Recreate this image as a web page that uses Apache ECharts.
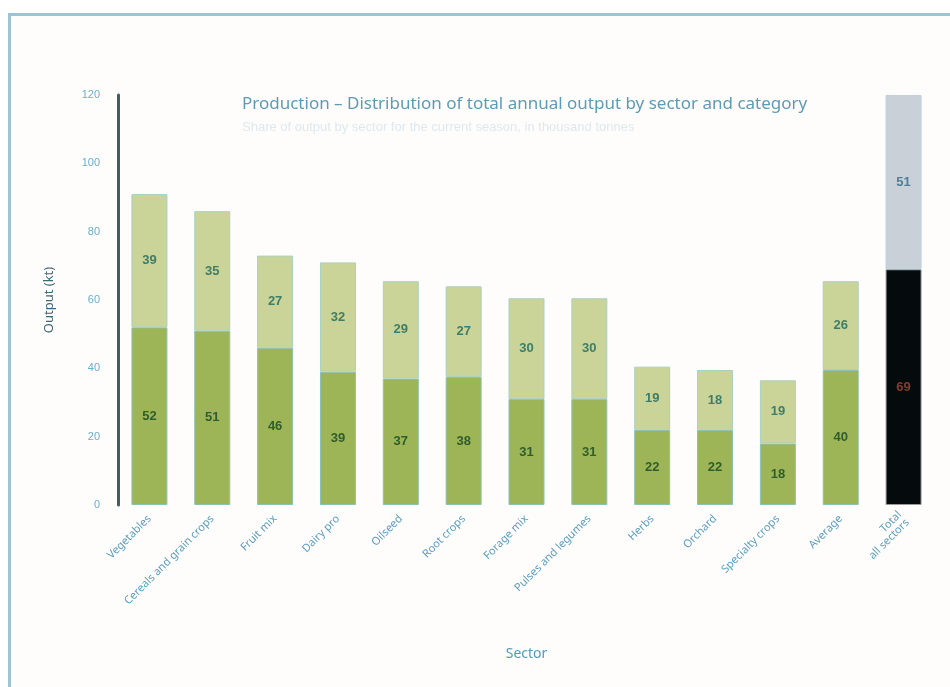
<!DOCTYPE html>
<html>
<head>
<meta charset="utf-8">
<script src="https://cdn.jsdelivr.net/npm/echarts@6/dist/echarts.min.js"></script>
<style>
html,body{margin:0;padding:0;background:#fff;}
#frame{position:absolute;left:8px;top:13px;width:942px;height:674px;border-top:3px solid #9fc3d3;border-left:3px solid #9fc3d3;box-sizing:border-box;background:#fffdfb;}
#chart{position:absolute;left:0;top:0;width:950px;height:687px;}
</style>
</head>
<body>
<div id="frame"></div>
<div id="chart"></div>
<script>
const categories = ["Vegetables", "Cereals and grain crops", "Fruit mix", "Dairy pro", "Oilseed", "Root crops", "Forage mix", "Pulses and legumes", "Herbs", "Orchard", "Specialty crops", "Average", "Total\nall sectors"];
const baseValues = [52, 51, 46, 39, 37, 37.5, 31, 31, 22, 22, 18, 39.5, 69];
const topValues = [39, 35, 27, 32, 28.5, 26.5, 29.5, 29.5, 18.5, 17.5, 18.5, 26, 51];
const yTicks = [0, 20, 40, 60, 80, 100, 120];

const chart = echarts.init(document.getElementById('chart'));
const n = categories.length;
const baseData = baseValues.map((v, i) => i === n - 1
  ? {value: v, itemStyle: {color: '#050a0c', borderColor: '#9a9a9a'}, label: {color: '#8a3a2a'}}
  : v);
const topData = topValues.map((v, i) => i === n - 1
  ? {value: v, itemStyle: {color: '#c9d0d8', borderColor: '#b8d3e2'}, label: {color: '#4a7f99'}}
  : v);

chart.setOption({
  animation: false,
  title: {
    text: 'Production – Distribution of total annual output by sector and category',
    subtext: 'Share of output by sector for the current season, in thousand tonnes',
    left: 237, top: 91,
    textStyle: {color: '#5d9bb5', fontSize: 17, fontWeight: 'normal', fontFamily: 'Noto Sans'},
    subtextStyle: {color: '#dde9ef', fontSize: 13},
    itemGap: 8
  },
  grid: {left: 118, right: 15, top: 95, bottom: 182},
  xAxis: {
    type: 'category',
    data: categories,
    name: 'Sector',
    nameLocation: 'middle',
    nameGap: 142,
    nameTextStyle: {color: '#4f9bc0', fontSize: 14, fontFamily: 'Noto Sans'},
    axisLine: {show: false},
    axisTick: {show: false},
    axisLabel: {rotate: 45, color: '#5b9dc0', fontSize: 11, margin: 12, fontFamily: 'Noto Sans'}
  },
  yAxis: {
    type: 'value',
    min: 0, max: 120, interval: 20,
    name: 'Output (kt)',
    nameLocation: 'middle',
    nameGap: 62,
    nameTextStyle: {color: '#3f6675', fontSize: 13, fontFamily: 'Noto Sans'},
    axisLine: {show: true, lineStyle: {color: '#3e5e6a', width: 3}},
    axisTick: {show: false},
    splitLine: {show: false},
    axisLabel: {color: '#6aaed0', fontSize: 11, margin: 18, formatter: v => yTicks.includes(v) ? String(v) : ''}
  },
  series: [
    {
      type: 'bar', stack: 'total', name: 'Base', barWidth: 36,
      data: baseData,
      itemStyle: {color: '#9db556', borderColor: '#8cc2b0', borderWidth: 1},
      label: {show: true, position: 'inside', color: '#2f5e2c', fontSize: 13, fontWeight: 'bold', formatter: p => Math.round(p.value)}
    },
    {
      type: 'bar', stack: 'total', name: 'Top', barWidth: 36,
      data: topData,
      itemStyle: {color: '#cad498', borderColor: '#a9d0c2', borderWidth: 1},
      label: {show: true, position: 'inside', color: '#3f7d66', fontSize: 13, fontWeight: 'bold', formatter: p => Math.round(p.value)}
    }
  ]
});
</script>
</body>
</html>
